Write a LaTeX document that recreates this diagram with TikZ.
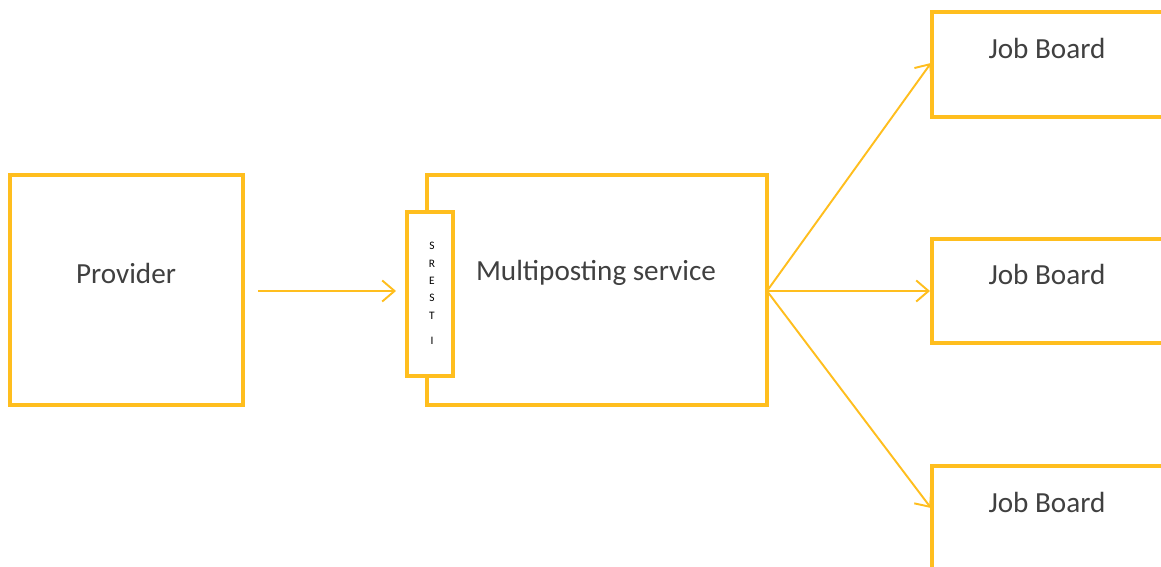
\documentclass[tikz,border=0pt]{standalone}
\usepackage{fontspec}
\setmainfont{Carlito}
\usetikzlibrary{arrows.meta,positioning}
\definecolor{msgold}{RGB}{255,190,30}
\definecolor{msgrey}{RGB}{64,64,64}
\tikzstyle{entity} = [rectangle, draw=msgold, line width=2.3pt, fill=white, inner sep=0pt]
\tikzstyle{gate} = [rectangle, draw=msgold, line width=2pt, fill=white, inner sep=0pt]
\tikzstyle{link} = [draw=msgold, line width=1.1pt, -{Straight Barb[length=7pt,width=12pt]}]
\tikzstyle{caption} = [font=\fontsize{16.6}{19}\selectfont, text=msgrey]
\tikzstyle{letter} = [font=\fontsize{6.5}{7}\selectfont, text=black, inner sep=0pt]

\begin{document}
\begin{tikzpicture}[x=0.02cm, y=-0.02cm]
\useasboundingbox (0,0) rectangle (1161,567);

% Provider
\node[entity, minimum width=4.66cm, minimum height=4.6cm] (provider) at (126.5,290) {};
\node[caption] (providertext) at (126,273) {Provider};

% Multiposting service with its REST interface
\node[entity, minimum width=6.8cm, minimum height=4.6cm] (multi) at (597,290) {};
\node[caption] (multitext) at (596,273) {Multiposting service};
\node[gate, minimum width=0.92cm, minimum height=3.28cm] (rest) at (430,294) {};
\foreach \ch/\y [count=\i] in {S/246,R/264,E/281,S/298,T/316,I/341}
  \node[letter] (rest\i) at (432,\y) {\ch};

% Job boards
\node[entity, minimum width=5.96cm, minimum height=2.1cm] (boardA) at (1081,64.5) {};
\node[entity, minimum width=5.96cm, minimum height=2.08cm] (boardB) at (1081,291) {};
\node[entity, minimum width=5.96cm, minimum height=2.08cm] (boardC) at (1081,518) {};
\node[caption] (boardAtext) at (1047,48) {Job Board};
\node[caption] (boardBtext) at (1047,274) {Job Board};
\node[caption] (boardCtext) at (1047,502) {Job Board};

% Arrows
\coordinate (out) at (258,291);
\coordinate (in) at (396,291);
\coordinate (hub) at (767,291);
\coordinate (tipA) at (931,63);
\coordinate (tipC) at (931,508);
\draw[link] (out) -- (in);
\draw[link] (hub) -- (tipA);
\draw[link] (hub) -- (boardB.west);
\draw[link] (hub) -- (tipC);
\end{tikzpicture}
\end{document}
